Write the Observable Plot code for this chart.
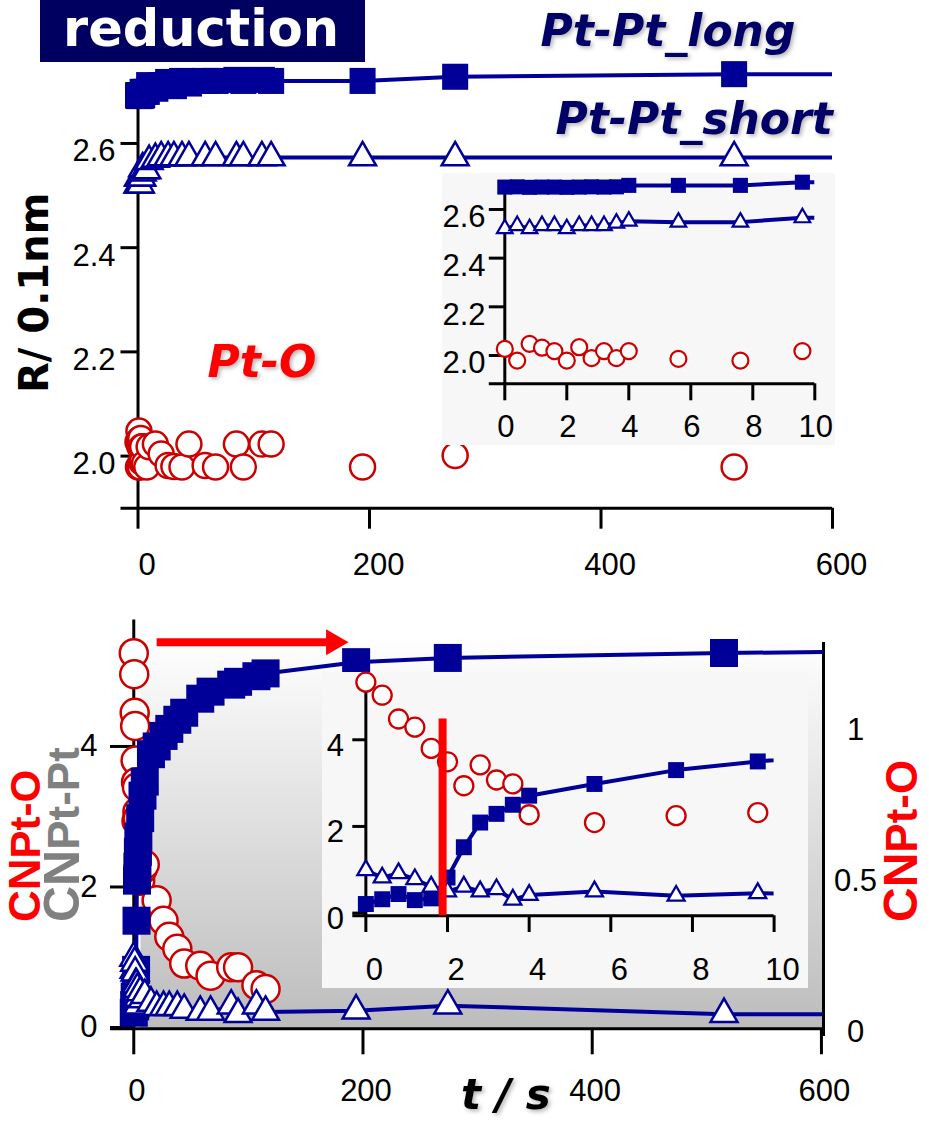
<!DOCTYPE html>
<html><head><meta charset="utf-8">
<script src="https://cdn.jsdelivr.net/npm/d3@7"></script>
<script src="https://cdn.jsdelivr.net/npm/@observablehq/plot@0.6"></script>
<style>
html,body{margin:0;padding:0;background:#fff;}
#root{position:relative;width:929px;height:1122px;overflow:hidden;background:#fff;}
#root svg{position:absolute;overflow:visible;}
.title{position:absolute;left:40px;top:0;width:325px;height:62px;background:#000060;color:#fff;font-family:"DejaVu Sans",sans-serif;font-weight:bold;font-size:51px;line-height:58px;padding-left:23px;box-sizing:border-box;white-space:nowrap;}
</style></head><body><div id="root"><div class="title">reduction</div></div>
<script>
// ---------- data ----------
const time = [0,0.4,0.8,1.2,1.6,2.0,2.4,2.8,3.2,3.6,4.0,5.6,7.6,9.6,15,20,26,31,38,44,58,67,85,91,107,115,194,274,515,700];
// R / 0.1nm
const rPtPtLong  = [2.692,2.693,2.691,2.692,2.692,2.691,2.692,2.693,2.692,2.693,2.699,2.699,2.699,2.712,2.705,2.712,2.718,2.71,2.72,2.715,2.72,2.72,2.722,2.72,2.722,2.72,2.72,2.728,2.733,2.733];
const rPtPtShort = [2.521,2.534,2.521,2.534,2.534,2.521,2.534,2.534,2.534,2.544,2.552,2.548,2.548,2.566,2.57,2.573,2.573,2.573,2.573,2.573,2.573,2.573,2.573,2.573,2.573,2.573,2.573,2.573,2.573,2.573];
const rPtO       = [2.027,1.979,2.048,2.032,2.018,1.979,2.034,1.989,2.018,1.989,2.018,1.986,1.979,2.018,2.023,2.004,1.982,1.98,1.979,2.023,1.982,1.979,2.023,1.979,2.023,2.023,1.979,2.001,1.979,null];
// coordination numbers
const cnPtPtLong  = [0.21,0.32,0.44,0.30,0.34,0.82,1.52,2.09,2.29,2.50,2.71,2.98,3.30,3.50,3.89,4.0,4.15,4.25,4.38,4.48,4.68,4.78,4.88,4.92,5.0,5.04,5.2,5.26,5.33,5.36];
const cnPtPtShort = [0.99,0.82,0.92,0.78,0.61,0.50,0.61,0.50,0.55,0.31,0.42,0.50,0.40,0.46,0.35,0.29,0.29,0.29,0.29,0.25,0.22,0.22,0.31,0.19,0.31,0.22,0.24,0.31,0.19,0.19];
const cnPtO       = [1.256,1.186,1.058,1.014,0.900,0.828,0.699,0.811,0.730,0.709,0.543,0.501,0.538,0.555,null,0.436,0.368,0.315,0.275,0.226,0.219,0.186,0.214,0.214,0.154,0.142,null,null,null,null];
// ticks
const rTicks = [2.0,2.2,2.4,2.6];
const tTicksMain = [0,200,400,600];
const tTicksInset = [0,2,4,6,8,10];
const cnTicksLeft = [0,2,4];
const cnTicksRight = [0,0.5,1];
// right axis (CN Pt-O) vs left axis relation
const rightScale = 4.29, rightOffset = -0.06;
const leftFromRight = v => rightOffset + rightScale * v;
const rightFromLeft = v => (v - rightOffset) / rightScale;
// annotations
const onsetTime = 1.88, onsetTop = 4.48;
const arrowStart = 20.4, arrowEnd = 172, arrowHeadAt = 174.3, arrowLevel = 5.485;
const seriesLabels = [
  {t:347.7, v:2.815, text:"Pt-Pt_long", color:"#000066"},
  {t:360.7, v:2.646, text:"Pt-Pt_short", color:"#000066"},
  {t:60, v:2.178, text:"Pt-O", color:"#ff0000"}
];

// ---------- tables ----------
const topData = time.map((t,i)=>({t, long:rPtPtLong[i], short:rPtPtShort[i], pto:rPtO[i]}));
const botData = time.map((t,i)=>({t, long:cnPtPtLong[i], short:cnPtPtShort[i], pto: cnPtO[i]==null ? null : leftFromRight(cnPtO[i])}));
const topVis = topData.filter(d=>d.t<=600), botVis = botData.filter(d=>d.t<=600);
const topIn = topData.filter(d=>d.t<=10), botIn = botData.filter(d=>d.t<=10);

const NAVY = "#000099", RED = "#cc0000";
const tickFont = "'Liberation Sans', Arial, sans-serif";
const baseStyle = {fontFamily: tickFont, fontSize: "31px", color: "#000", background: "transparent", overflow: "visible"};
const intFmt = d => String(d);
const root = document.getElementById("root");
function place(svg, left, top, bg){
  svg.style.position = "absolute"; svg.style.left = left + "px"; svg.style.top = top + "px";
  svg.style.overflow = "visible"; svg.style.maxWidth = "none";
  if (bg) svg.style.background = bg;
  root.appendChild(svg);
}
function shadow(svg){
  svg.querySelectorAll('g[aria-label="text"] text').forEach(e => e.style.filter = "drop-shadow(2px 2px 2px rgba(0,0,0,0.3))");
}

// ---------- top main ----------
const p1 = Plot.plot({
  width:929, height:600, marginLeft:120.5, marginRight:97, marginTop:64.8, marginBottom:92.3,
  x:{domain:[-14.7,600]}, y:{domain:[1.9,2.75]},
  style: baseStyle,
  marks:[
    Plot.ruleY([1.9],{strokeWidth:3}),
    Plot.ruleX([0],{y1:1.9,y2:2.72,strokeWidth:3}),
    Plot.ruleY(rTicks,{x1:-14.7,x2:0,strokeWidth:3}),
    Plot.axisY(rTicks,{tickSize:0,tickPadding:5.5,dy:8,tickFormat:d3.format(".1f"),label:null}),
    Plot.axisX(tTicksMain,{tickSize:21,strokeWidth:3,tickFormat:()=>"",label:null}),
    Plot.axisX(tTicksMain,{tickSize:0,tickPadding:45,dx:9,tickFormat:intFmt,label:null}),
    Plot.dot(topData,{x:"t",y:"pto",r:12.5,stroke:RED,strokeWidth:2.5,fill:"white"}),
    Plot.line(topData,{x:"t",y:"long",stroke:NAVY,strokeWidth:4,clip:true}),
    Plot.line(topData,{x:"t",y:"short",stroke:NAVY,strokeWidth:4,clip:true}),
    Plot.dot(topVis,{x:"t",y:"short",symbol:"triangle",r:10,stroke:NAVY,strokeWidth:2.5,fill:"white"}),
    Plot.dot(topVis,{x:"t",y:"long",symbol:"square",r:14.7,fill:NAVY,stroke:"none"}),
    Plot.text(seriesLabels.filter(d=>d.color!=="#ff0000"),{x:"t",y:"v",text:"text",fill:"#000066",textAnchor:"start",lineAnchor:"middle",fontSize:44,fontWeight:"bold",fontStyle:"italic",fontFamily:"DejaVu Sans"}),
    Plot.text(seriesLabels.filter(d=>d.color==="#ff0000"),{x:"t",y:"v",text:"text",fill:"#ff0000",textAnchor:"start",lineAnchor:"middle",fontSize:44,fontWeight:"bold",fontStyle:"italic",fontFamily:"DejaVu Sans"})
  ]
});
shadow(p1);
d3.select(p1).append("text").attr("transform","translate(48,393) rotate(-90)")
  .attr("text-anchor","start").attr("font-family","DejaVu Sans").attr("font-weight","bold")
  .style("font-size","40px").attr("fill","#000").text("R/ 0.1nm");
place(p1, 0, 0);

// ---------- top inset ----------
const p2 = Plot.plot({
  width:393, height:272, marginLeft:46.8, marginRight:20.7, marginTop:1.9, marginBottom:61.7,
  x:{domain:[-0.5,10]}, y:{domain:[1.8837,2.74]},
  style: baseStyle,
  marks:[
    Plot.ruleY([1.8837],{strokeWidth:3}),
    Plot.ruleX([0],{y1:1.8837,y2:2.67,strokeWidth:3}),
    Plot.ruleY(rTicks,{x1:-0.5,x2:0,strokeWidth:3}),
    Plot.axisY(rTicks,{tickSize:0,tickPadding:3.8,dy:8,tickFormat:d3.format(".1f"),label:null}),
    Plot.axisX(tTicksInset,{tickSize:17,strokeWidth:3,tickFormat:()=>"",label:null}),
    Plot.axisX(tTicksInset,{tickSize:0,tickPadding:30.7,dx:1,tickFormat:intFmt,label:null}),
    Plot.dot(topIn,{x:"t",y:"pto",r:8,stroke:RED,strokeWidth:2.2,fill:"white"}),
    Plot.line(topData,{x:"t",y:"long",stroke:NAVY,strokeWidth:4,clip:true}),
    Plot.line(topData,{x:"t",y:"short",stroke:NAVY,strokeWidth:4,clip:true}),
    Plot.dot(topIn,{x:"t",y:"short",symbol:"triangle",r:5.8,stroke:NAVY,strokeWidth:2.2,fill:"white"}),
    Plot.dot(topIn,{x:"t",y:"long",symbol:"square",r:8.5,fill:NAVY,stroke:"none"})
  ]
});
place(p2, 442, 173, "#f7f7f7");

// ---------- bottom main ----------
const p3 = Plot.plot({
  width:929, height:522, marginLeft:110, marginRight:106, marginTop:19.5, marginBottom:93.7,
  x:{domain:[-20.3,601.8]}, y:{domain:[-0.0185,5.8]},
  style: baseStyle,
  marks:[
    Plot.frame({fill:"url(#cnGrad)",stroke:"none",insetLeft:30,insetTop:15.5}),
    Plot.ruleY([-0.0185],{strokeWidth:3}),
    Plot.ruleX([0],{y1:-0.0185,y2:5.8,strokeWidth:3}),
    Plot.ruleX([601.8],{y1:-0.128,y2:5.48,strokeWidth:3}),
    Plot.ruleY(cnTicksLeft,{x1:-20.3,x2:0,strokeWidth:3}),
    Plot.axisY(cnTicksLeft,{tickSize:0,tickPadding:13,tickFormat:intFmt,label:null}),
    Plot.axisY(cnTicksRight.map(leftFromRight),{anchor:"right",tickSize:0,tickPadding:32,textAnchor:"middle",tickFormat:d=>String(+rightFromLeft(d).toFixed(1)),label:null}),
    Plot.axisX(tTicksMain,{tickSize:26,strokeWidth:3,tickFormat:()=>"",label:null}),
    Plot.axisX(tTicksMain,{tickSize:0,tickPadding:50,dx:3,tickFormat:intFmt,label:null}),
    Plot.dot(botData,{x:"t",y:"pto",r:14,stroke:RED,strokeWidth:2.5,fill:"white"}),
    Plot.line(botData,{x:"t",y:"long",stroke:NAVY,strokeWidth:4,clip:true}),
    Plot.dot(botVis,{x:"t",y:"long",symbol:"square",r:15.8,fill:NAVY,stroke:"none"}),
    Plot.line(botData,{x:"t",y:"short",stroke:NAVY,strokeWidth:4,clip:true}),
    Plot.dot(botVis,{x:"t",y:"short",symbol:"triangle",r:10,stroke:NAVY,strokeWidth:2.5,fill:"white"}),
    Plot.ruleY([arrowLevel],{x1:arrowStart,x2:arrowEnd,stroke:"#ff0000",strokeWidth:8}),
    Plot.dot([{t:arrowHeadAt,v:arrowLevel}],{x:"t",y:"v",symbol:"triangle",rotate:90,r:9.65,fill:"#ff0000",stroke:"none"})
  ]
});
{
  const s = d3.select(p3);
  const g = s.insert("defs",":first-child").append("linearGradient").attr("id","cnGrad")
    .attr("x1",0).attr("y1",0).attr("x2",0).attr("y2",1);
  g.append("stop").attr("offset","0%").attr("stop-color","#ffffff");
  g.append("stop").attr("offset","100%").attr("stop-color","#bcbcbc");
  const lab = (x, color, sub, big, small) => {
    const t = s.append("text").attr("transform",`translate(${x},322) rotate(-90)`)
      .attr("text-anchor","start").attr("font-family","'Liberation Sans', Arial, sans-serif")
      .attr("font-weight","bold").attr("fill",color);
    t.append("tspan").style("font-size",big+"px").text("CN");
    t.append("tspan").style("font-size",small+"px").text(sub);
  };
  lab(79, "#808080", "Pt-Pt", 50, 44);
  lab(40, "#ff0000", "Pt-O", 44, 42);
  lab(917, "#ff0000", "Pt-O", 48, 44);
  s.append("text").attr("x",461).attr("y",509).attr("text-anchor","start").attr("font-family","DejaVu Sans")
    .attr("font-weight","bold").attr("font-style","italic").style("font-size","42px")
    .attr("fill","#000").style("filter","drop-shadow(2px 2px 2px rgba(0,0,0,0.3))").text("t / s");
}
place(p3, 0, 600);

// ---------- bottom inset ----------
const p4 = Plot.plot({
  width:486.3, height:316.3, marginLeft:30.3, marginRight:34.7, marginTop:0.1, marginBottom:73,
  x:{domain:[-0.32,10]}, y:{domain:[-0.062,5.55]},
  style: baseStyle,
  marks:[
    Plot.ruleY([-0.062],{strokeWidth:3}),
    Plot.ruleX([0],{y1:-0.062,y2:5.29,strokeWidth:3}),
    Plot.ruleY(cnTicksLeft,{x1:-0.32,x2:0,strokeWidth:3}),
    Plot.axisY(cnTicksLeft,{tickSize:0,tickPadding:8.7,dy:6,tickFormat:intFmt,label:null}),
    Plot.axisX(tTicksInset,{tickSize:16.7,strokeWidth:3,tickFormat:()=>"",label:null}),
    Plot.axisX(tTicksInset,{tickSize:0,tickPadding:41.7,dx:8.5,tickFormat:intFmt,label:null}),
    Plot.dot(botIn,{x:"t",y:"pto",r:9.5,stroke:RED,strokeWidth:2.3,fill:"white"}),
    Plot.line(botData,{x:"t",y:"long",stroke:NAVY,strokeWidth:4,clip:true}),
    Plot.dot(botIn,{x:"t",y:"long",symbol:"square",r:9,fill:NAVY,stroke:"none"}),
    Plot.line(botData,{x:"t",y:"short",stroke:NAVY,strokeWidth:4,clip:true}),
    Plot.dot(botIn,{x:"t",y:"short",symbol:"triangle",r:6.3,stroke:NAVY,strokeWidth:2.3,fill:"white"}),
    Plot.ruleX([onsetTime],{y1:-0.062,y2:onsetTop,stroke:"#ff0000",strokeWidth:8})
  ]
});
place(p4, 321.7, 671.7, "#f7f7f7");
</script></body></html>
